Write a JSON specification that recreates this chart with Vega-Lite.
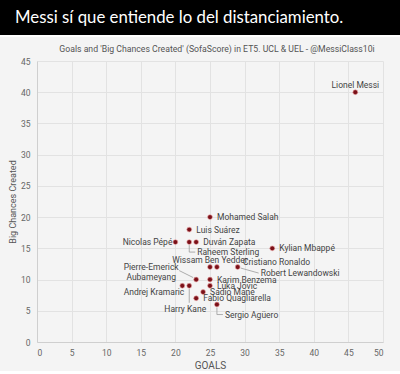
{
  "$schema": "https://vega.github.io/schema/vega-lite/v6.json",
  "background": "#f4f4f4",
  "padding": 0,
  "width": 346,
  "height": 281,
  "config": {
    "view": {"stroke": null},
    "font": "Roboto",
    "axis": {
      "grid": true,
      "gridColor": "#e2e2e2",
      "domainColor": "#cfcfcf",
      "ticks": false,
      "labelColor": "#666666",
      "labelFontSize": 8.5,
      "titleColor": "#555555",
      "titleFontWeight": "normal"
    }
  },
  "data": {"values": [
    {"player": "Lionel Messi", "goals": 46, "bcc": 40},
    {"player": "Mohamed Salah", "goals": 25, "bcc": 20},
    {"player": "Luis Suárez", "goals": 22, "bcc": 18},
    {"player": "Nicolas Pépé", "goals": 20, "bcc": 16},
    {"player": "Raheem Sterling", "goals": 22, "bcc": 16},
    {"player": "Duván Zapata", "goals": 23, "bcc": 16},
    {"player": "Kylian Mbappé", "goals": 34, "bcc": 15},
    {"player": "Wissam Ben Yedder", "goals": 25, "bcc": 12},
    {"player": "Cristiano Ronaldo", "goals": 26, "bcc": 12},
    {"player": "Robert Lewandowski", "goals": 29, "bcc": 12},
    {"player": "Pierre-Emerick Aubameyang", "goals": 23, "bcc": 10},
    {"player": "Karim Benzema", "goals": 25, "bcc": 10},
    {"player": "Luka Jovic", "goals": 25, "bcc": 9},
    {"player": "Andrej Kramaric", "goals": 21, "bcc": 9},
    {"player": "Harry Kane", "goals": 22, "bcc": 9},
    {"player": "Sadio Mane", "goals": 24, "bcc": 8},
    {"player": "Fabio Quagliarella", "goals": 23, "bcc": 7},
    {"player": "Sergio Agüero", "goals": 26, "bcc": 6}
  ]},
  "encoding": {
    "x": {
      "field": "goals", "type": "quantitative",
      "scale": {"domain": [0, 50], "nice": false},
      "axis": {"values": [0,5,10,15,20,25,30,35,40,45,50], "title": "GOALS", "titleFontSize": 10, "labelPadding": 6, "titlePadding": 4}
    },
    "y": {
      "field": "bcc", "type": "quantitative",
      "scale": {"domain": [0, 45], "nice": false},
      "axis": {"values": [0,5,10,15,20,25,30,35,40,45], "title": "Big Chances Created", "titleFontSize": 9, "labelPadding": 7, "titlePadding": 3}
    }
  },
  "layer": [
    {
      "data": {"values": [{"t": "Messi sí que entiende lo del distanciamiento."}]},
      "mark": {"type": "rect", "color": "#000000", "clip": false},
      "encoding": {"x": {"value": -37}, "x2": {"value": 363}, "y": {"value": -61}, "y2": {"value": -26}}
    },
    {
      "data": {"values": [{"t": "Messi sí que entiende lo del distanciamiento."}]},
      "mark": {"type": "rect", "color": "#ffffff", "clip": false},
      "encoding": {"x": {"value": -37}, "x2": {"value": 363}, "y": {"value": -26}, "y2": {"value": -24}}
    },
    {
      "data": {"values": [{"t": "Messi sí que entiende lo del distanciamiento."}]},
      "mark": {"type": "text", "align": "left", "baseline": "middle", "color": "#ffffff", "font": "Lato", "fontSize": 16.8, "clip": false},
      "encoding": {"x": {"value": -22}, "y": {"value": -43.5}, "text": {"field": "t"}}
    },
    {
      "data": {"values": [{"t": "Goals and 'Big Chances  Created' (SofaScore)  in ET5. UCL & UEL - @MessiClass10i"}]},
      "mark": {"type": "text", "align": "center", "baseline": "middle", "color": "#555555", "fontSize": 8.7, "clip": false},
      "encoding": {"x": {"value": 180}, "y": {"value": -12}, "text": {"field": "t"}}
    },
    {
      "transform": [{"filter": {"field": "player", "oneOf": ["Raheem Sterling", "Sergio Agüero"]}}],
      "mark": {"type": "rule", "color": "#9a9a9a", "strokeWidth": 0.8, "yOffset": 3, "y2Offset": 10},
      "encoding": {"x2": {"field": "goals"}, "y2": {"field": "bcc"}}
    },
    {
      "transform": [{"filter": {"field": "player", "oneOf": ["Raheem Sterling", "Sergio Agüero"]}}],
      "mark": {"type": "rule", "color": "#9a9a9a", "strokeWidth": 0.8, "yOffset": 10, "y2Offset": 10, "x2Offset": 6},
      "encoding": {"x2": {"field": "goals"}, "y2": {"field": "bcc"}}
    },
    {
      "transform": [{"filter": {"field": "player", "oneOf": ["Harry Kane"]}}],
      "mark": {"type": "rule", "color": "#9a9a9a", "strokeWidth": 0.8, "yOffset": 3, "y2Offset": 17},
      "encoding": {"x2": {"field": "goals"}, "y2": {"field": "bcc"}}
    },
    {
      "transform": [{"filter": {"field": "player", "oneOf": ["Robert Lewandowski"]}}],
      "mark": {"type": "rule", "color": "#9a9a9a", "strokeWidth": 0.8, "xOffset": 3, "yOffset": 1, "x2Offset": 21, "y2Offset": 6},
      "encoding": {"x2": {"field": "goals"}, "y2": {"field": "bcc"}}
    },
    {
      "transform": [{"filter": {"field": "player", "oneOf": ["Pierre-Emerick Aubameyang"]}}],
      "mark": {"type": "rule", "color": "#9a9a9a", "strokeWidth": 0.8, "xOffset": -3, "yOffset": -2, "x2Offset": -17, "y2Offset": -9},
      "encoding": {"x2": {"field": "goals"}, "y2": {"field": "bcc"}}
    },
    {
      "mark": {"type": "circle", "size": 24, "color": "#7a1018", "opacity": 1, "stroke": "#eeaaaa", "strokeWidth": 1, "strokeOpacity": 0.6}
    },
    {
      "transform": [{"filter": {"field": "player", "oneOf": ["Mohamed Salah", "Luis Suárez", "Duván Zapata", "Kylian Mbappé", "Karim Benzema", "Luka Jovic", "Sadio Mane", "Fabio Quagliarella"]}}],
      "mark": {"type": "text", "align": "left", "baseline": "middle", "dx": 7, "fontSize": 8.5, "color": "#444444"},
      "encoding": {"text": {"field": "player"}}
    },
    {
      "transform": [{"filter": {"field": "player", "oneOf": ["Lionel Messi", "Wissam Ben Yedder"]}}],
      "mark": {"type": "text", "align": "center", "baseline": "middle", "dy": -7, "fontSize": 8.5, "color": "#444444"},
      "encoding": {"text": {"field": "player"}}
    },
    {
      "transform": [{"filter": {"field": "player", "oneOf": ["Nicolas Pépé"]}}],
      "mark": {"type": "text", "align": "right", "baseline": "middle", "dx": -3, "fontSize": 8.5, "color": "#444444"},
      "encoding": {"text": {"field": "player"}}
    },
    {
      "transform": [{"filter": {"field": "player", "oneOf": ["Raheem Sterling", "Sergio Agüero"]}}],
      "mark": {"type": "text", "align": "left", "baseline": "middle", "dx": 8, "dy": 10, "fontSize": 8.5, "color": "#444444"},
      "encoding": {"text": {"field": "player"}}
    },
    {
      "transform": [{"filter": {"field": "player", "oneOf": ["Cristiano Ronaldo"]}}],
      "mark": {"type": "text", "align": "left", "baseline": "middle", "dx": 26, "dy": -5, "fontSize": 8.5, "color": "#444444"},
      "encoding": {"text": {"field": "player"}}
    },
    {
      "transform": [{"filter": {"field": "player", "oneOf": ["Robert Lewandowski"]}}],
      "mark": {"type": "text", "align": "left", "baseline": "middle", "dx": 23, "dy": 6, "fontSize": 8.5, "color": "#444444"},
      "encoding": {"text": {"field": "player"}}
    },
    {
      "transform": [{"filter": {"field": "player", "oneOf": ["Pierre-Emerick Aubameyang"]}}],
      "mark": {"type": "text", "align": "center", "baseline": "middle", "lineBreak": " ", "lineHeight": 10, "dx": -45, "dy": -13, "fontSize": 8.5, "color": "#444444"},
      "encoding": {"text": {"field": "player"}}
    },
    {
      "transform": [{"filter": {"field": "player", "oneOf": ["Andrej Kramaric"]}}],
      "mark": {"type": "text", "align": "right", "baseline": "middle", "dx": 2, "dy": 6, "fontSize": 8.5, "color": "#444444"},
      "encoding": {"text": {"field": "player"}}
    },
    {
      "transform": [{"filter": {"field": "player", "oneOf": ["Harry Kane"]}}],
      "mark": {"type": "text", "align": "center", "baseline": "middle", "dx": -4, "dy": 23, "fontSize": 8.5, "color": "#444444"},
      "encoding": {"text": {"field": "player"}}
    }
  ]
}
